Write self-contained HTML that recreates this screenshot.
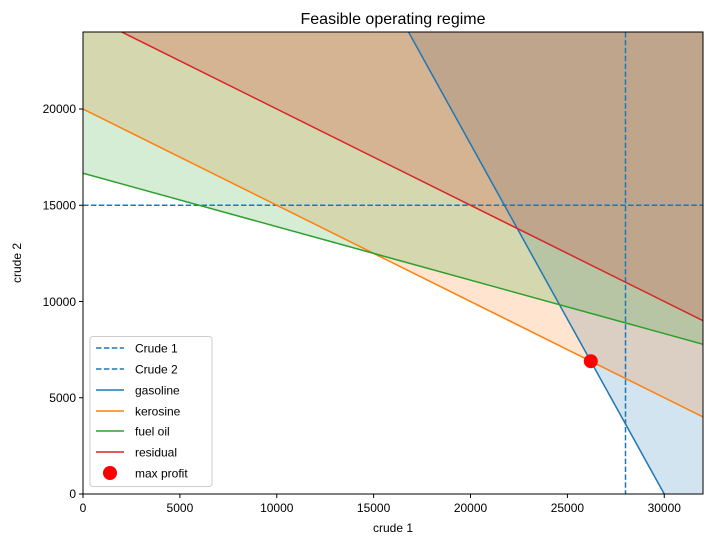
<!DOCTYPE html>
<html><head><meta charset="utf-8"><style>
html,body{margin:0;padding:0;background:#fff;}
svg{display:block;font-family:"Liberation Sans","DejaVu Sans",sans-serif;}
</style></head><body>
<svg width="713" height="547" viewBox="0 0 713 547" xmlns="http://www.w3.org/2000/svg">
<rect width="713" height="547" fill="#fff"/>
<defs><clipPath id="c"><rect x="83" y="32" width="620" height="462"/></clipPath></defs>
<g clip-path="url(#c)">
<polygon points="408.5,32 703,32 703,494 664.25,494" fill="#1f77b4" fill-opacity="0.2"/>
<polygon points="83,32 703,32 703,417 83,109" fill="#ff7f0e" fill-opacity="0.2"/>
<polygon points="83,32 703,32 703,344.3 83,173.2" fill="#2ca02c" fill-opacity="0.2"/>
<polygon points="121.75,32 703,32 703,320.75" fill="#d62728" fill-opacity="0.2"/>
<line x1="625.5" y1="32" x2="625.5" y2="494" stroke="#1f77b4" stroke-width="1.5" stroke-dasharray="5.5,2.4"/>
<line x1="83" y1="205.25" x2="703" y2="205.25" stroke="#1f77b4" stroke-width="1.5" stroke-dasharray="5.5,2.4"/>
<line x1="664.25" y1="494" x2="408.5" y2="32" stroke="#1f77b4" stroke-width="1.5"/>
<line x1="83" y1="109" x2="703" y2="417" stroke="#ff7f0e" stroke-width="1.5"/>
<line x1="83" y1="173.2" x2="703" y2="344.3" stroke="#2ca02c" stroke-width="1.5"/>
<line x1="121.75" y1="32" x2="703" y2="320.75" stroke="#d62728" stroke-width="1.5"/>
<circle cx="590.8" cy="361.2" r="7" fill="#ff0000"/>
</g>
<rect x="83" y="32" width="620" height="462" fill="none" stroke="#000" stroke-width="1"/>
<g stroke="#000" stroke-width="1">
<line x1="83" y1="494" x2="83" y2="498"/><line x1="179.9" y1="494" x2="179.9" y2="498"/><line x1="276.75" y1="494" x2="276.75" y2="498"/><line x1="373.6" y1="494" x2="373.6" y2="498"/><line x1="470.5" y1="494" x2="470.5" y2="498"/><line x1="567.4" y1="494" x2="567.4" y2="498"/><line x1="664.25" y1="494" x2="664.25" y2="498"/>
<line x1="79" y1="494" x2="83" y2="494"/><line x1="79" y1="397.75" x2="83" y2="397.75"/><line x1="79" y1="301.5" x2="83" y2="301.5"/><line x1="79" y1="205.25" x2="83" y2="205.25"/><line x1="79" y1="109" x2="83" y2="109"/>
</g>
<g font-size="12" fill="#000" text-anchor="middle">
<text x="83" y="512">0</text><text x="179.9" y="512">5000</text><text x="276.75" y="512">10000</text><text x="373.6" y="512">15000</text><text x="470.5" y="512">20000</text><text x="567.4" y="512">25000</text><text x="664.25" y="512">30000</text>
</g>
<g font-size="12" fill="#000" text-anchor="end">
<text x="76" y="498">0</text><text x="76" y="402">5000</text><text x="76" y="306">10000</text><text x="76" y="209.5">15000</text><text x="76" y="113">20000</text>
</g>
<text x="393" y="532" font-size="12" text-anchor="middle">crude 1</text>
<text x="21" y="263" font-size="12" text-anchor="middle" transform="rotate(-90 21 263)">crude 2</text>
<text x="393" y="24" font-size="16" text-anchor="middle">Feasible operating regime</text>
<rect x="90" y="336.5" width="122" height="150" rx="3" fill="#fff" fill-opacity="0.8" stroke="#ccc"/>
<g stroke-width="1.5">
<line x1="96" y1="348" x2="124" y2="348" stroke="#1f77b4" stroke-dasharray="5.5,2.4"/>
<line x1="96" y1="369" x2="124" y2="369" stroke="#1f77b4" stroke-dasharray="5.5,2.4"/>
<line x1="96" y1="390" x2="124" y2="390" stroke="#1f77b4"/>
<line x1="96" y1="411" x2="124" y2="411" stroke="#ff7f0e"/>
<line x1="96" y1="431" x2="124" y2="431" stroke="#2ca02c"/>
<line x1="96" y1="452" x2="124" y2="452" stroke="#d62728"/>
</g>
<circle cx="110" cy="473" r="7" fill="#ff0000"/>
<g font-size="12" fill="#000">
<text x="135" y="352.5">Crude 1</text><text x="135" y="373.5">Crude 2</text><text x="135" y="394.5">gasoline</text><text x="135" y="415.5">kerosine</text><text x="135" y="435.5">fuel oil</text><text x="135" y="456.5">residual</text><text x="135" y="477.5">max profit</text>
</g>
</svg>
</body></html>
